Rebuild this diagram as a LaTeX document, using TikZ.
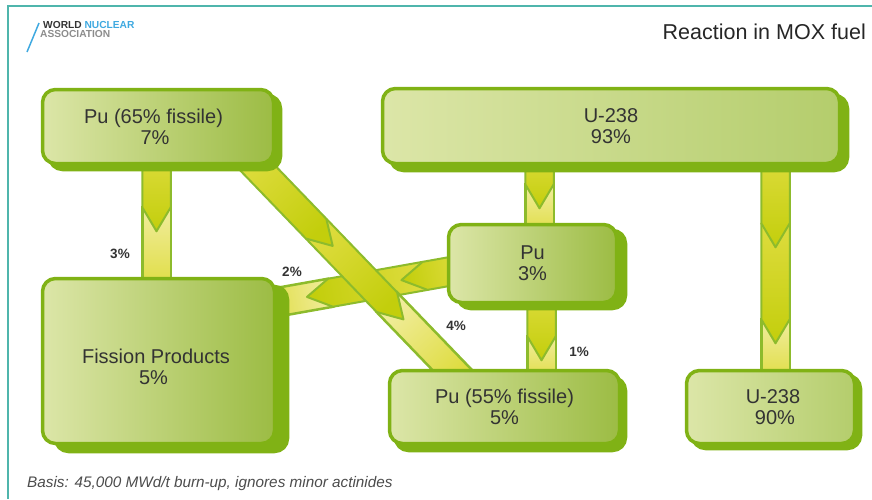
\documentclass[tikz,border=0pt]{standalone}
\usepackage{fontspec}
\setmainfont{Liberation Sans}
\usepackage{tikz}
\usetikzlibrary{calc}
\usetikzlibrary{shadows}
\usetikzlibrary{backgrounds}

\definecolor{boxgreen}{HTML}{80B215}
\definecolor{boxlight}{HTML}{DCE6A8}
\definecolor{boxdark}{HTML}{9CBC44}
\definecolor{boxpale}{HTML}{B4CD6C}
\definecolor{bandedge}{HTML}{8DBB2C}
\definecolor{bandpale}{HTML}{F1ED9E}
\definecolor{bandmid}{HTML}{DEDC3E}
\definecolor{banddark}{HTML}{C3CE0C}
\definecolor{frameteal}{HTML}{4FB5AC}
\definecolor{logoblue}{HTML}{3FA9E0}

\tikzset{
    boxnode/.style 2 args={draw=boxgreen, line width=3.5pt, rounded corners=13pt,
        left color=boxlight, align=center, text=black!80,
        font=\fontsize{20}{21}\selectfont,
        general shadow={fill=boxgreen, draw=boxgreen, line width=3.5pt,
            shadow xshift=#1pt, shadow yshift=-#2pt}},
    pctlabel/.style={font=\fontsize{13.5}{15}\selectfont\bfseries, text=black!80}
}

% one band from node to node: #3 is the last tip, #4 the heads as start/tip
\newcommand{\flowband}[4]{
    \path let \p1=($(#2)-(#1)$) in \pgfextra{
        \pgfmathsetmacro{\bandangle}{atan2(\y1,\x1)}
        \pgfmathsetmacro{\bandlen}{veclen(\x1,\y1)+15}
        \pgfmathsetmacro{\shadeangle}{\bandangle+90}
        \global\let\bandangle\bandangle
        \global\let\bandlen\bandlen
        \global\let\shadeangle\shadeangle};
    \begin{scope}[shift={(#1)}, rotate=\bandangle]
        \draw[draw=bandedge, line width=2.5pt, top color=bandpale, bottom color=bandmid, shading angle=\shadeangle]
            ({#3-24},-14.25) rectangle (\bandlen,14.25);
        \foreach \start/\tip in {#4} {
            \draw[draw=bandedge, line width=2pt, line join=round, top color=bandmid, bottom color=banddark, shading angle=\shadeangle]
                (\start,-14.25) -- ({\tip-24},-14.25) -- (\tip,0) -- ({\tip-24},14.25) -- (\start,14.25) -- cycle;
        }
    \end{scope}
}

\begin{document}
\begin{tikzpicture}[x=1pt,y=-1pt]

    \useasboundingbox (0,0) rectangle (872,499);

    % Frame and logo
    \draw[frameteal, line width=1.5pt] (872,6) -- (8,6) -- (8,499);
    \draw[logoblue, line width=1.5pt] (39,23) -- (27,52);
    \node[anchor=west, inner sep=0pt, font=\fontsize{10.2}{9}\selectfont\bfseries, align=left] (logo) at (40,29.5)
        {\hspace*{3pt}\textcolor{black!80}{WORLD} \textcolor{logoblue}{NUCLEAR}\\\textcolor{black!45}{ASSOCIATION}};

    % Title and footnote
    \node[anchor=east, inner sep=0pt, font=\fontsize{21.5}{23}\selectfont, text=black!85] (title) at (866,32) {Reaction in MOX fuel};
    \node[anchor=west, inner sep=0pt, font=\fontsize{15.3}{17}\selectfont\itshape, text=black!70] (basis) at (27,484) {Basis: 45,000 MWd/t burn-up, ignores minor actinides};

    % Place the boxes
    \node[boxnode={7}{6}, right color=boxdark, minimum width=231pt, minimum height=74pt] (puA) at (158,126.5) {Pu (65\% fissile)\hspace*{9pt}\\7\%\hspace*{6pt}};
    \node[boxnode={8}{7}, right color=boxpale, minimum width=457pt, minimum height=75pt] (uA) at (611,126) {U-238\\93\%};
    \node[boxnode={9}{6}, right color=boxdark, minimum width=168pt, minimum height=78pt] (puB) at (532.5,263.5) {Pu\\3\%};
    \node[boxnode={13}{8}, right color=boxdark, minimum width=232pt, minimum height=165pt] (fp) at (158.5,361) {\rule{0pt}{26pt}Fission Products\hspace*{5pt}\\5\%\hspace*{10pt}};
    \node[boxnode={6}{7}, right color=boxdark, minimum width=230pt, minimum height=73pt] (puC) at (504.5,407) {Pu (55\% fissile)\\5\%};
    \node[boxnode={6}{5}, right color=boxpale, minimum width=168pt, minimum height=73pt] (uB) at (770.5,407) {\hspace*{5pt}U-238\\\hspace*{9pt}90\%};

    % Place the percentages
    \node[pctlabel] (p3) at (120,254) {3\%};
    \node[pctlabel] (p2) at (292,272) {2\%};
    \node[pctlabel] (p4) at (456,326) {4\%};
    \node[pctlabel] (p1) at (579,352) {1\%};

    % Draw the bands
    \begin{scope}[on background layer]
        \flowband{[xshift=-1.5pt]puA.south}{[xshift=-2pt]fp.north}{66}{-15/66}
        \flowband{[xshift=164.5pt]uA.south}{[xshift=5pt]uB.north}{178}{58/178,-15/82}
        \flowband{[xshift=-71.5pt]uA.south}{[xshift=7pt]puB.north}{43}{-15/43}
        \flowband{[xshift=9pt]puB.south}{[xshift=37pt]puC.north}{56}{-15/56}
        \flowband{[yshift=-8.5pt]puB.west}{[yshift=58.6pt]fp.east}{142}{22/142,-15/46}
        \flowband{[xshift=97pt]puA.south}{[xshift=-53.5pt]puC.north}{214}{88/214,-15/112}
    \end{scope}

\end{tikzpicture}
\end{document}
